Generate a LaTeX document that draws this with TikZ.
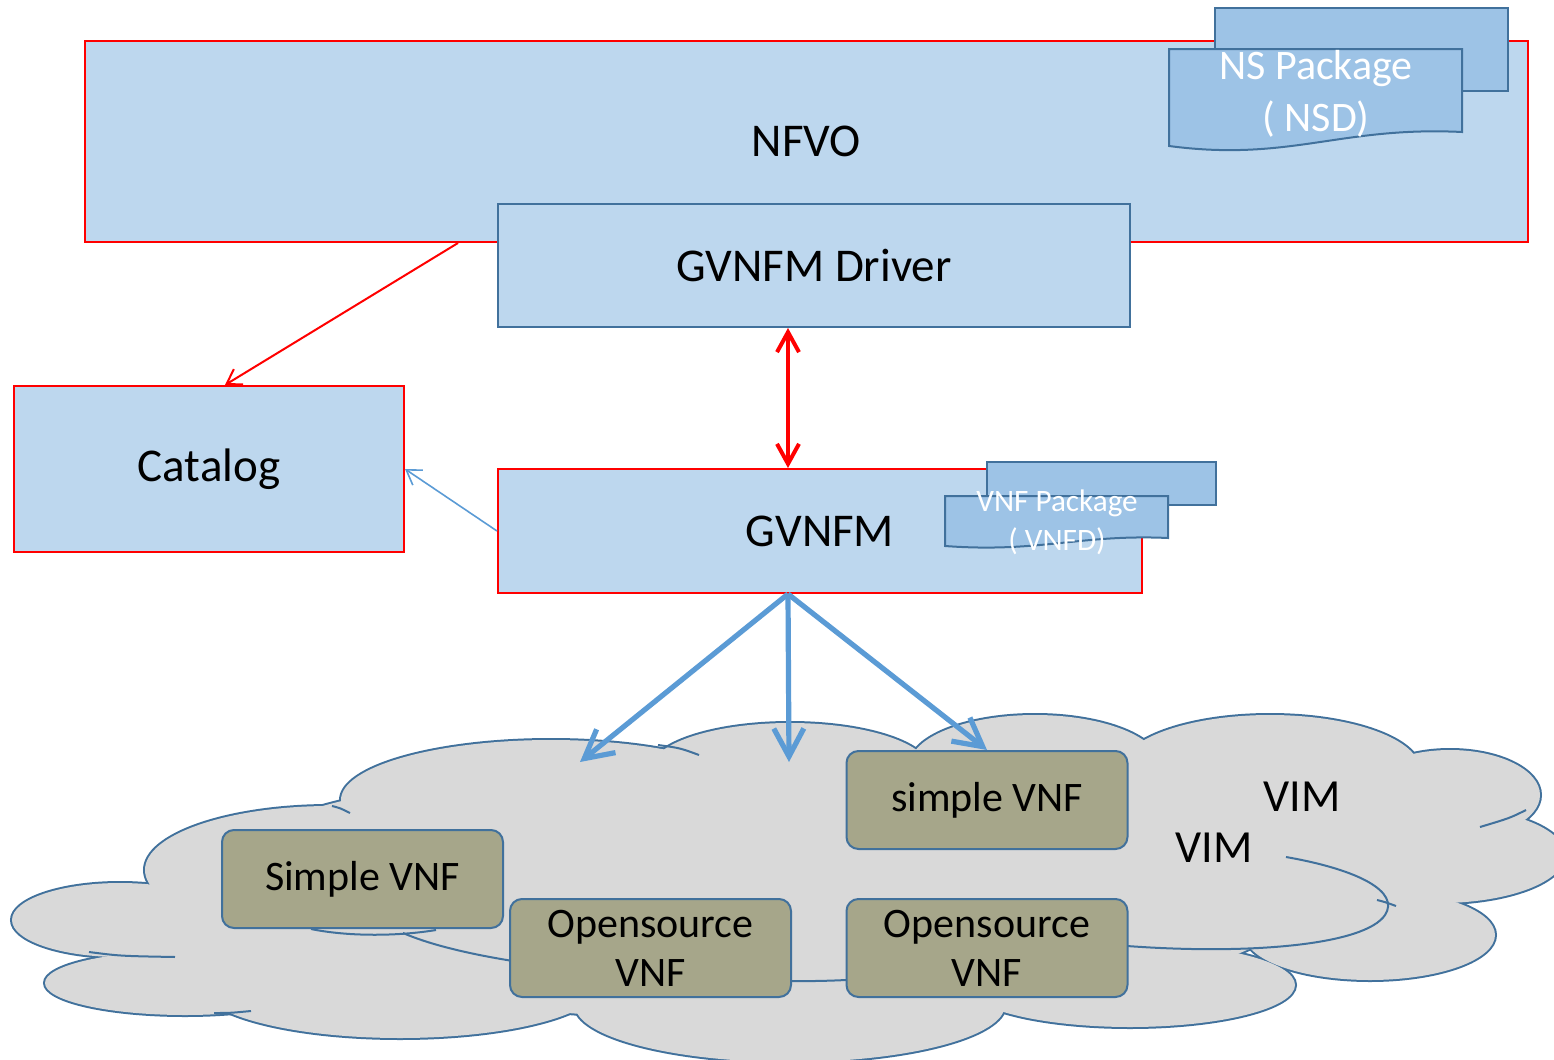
\documentclass[tikz,border=0pt]{standalone}
\usepackage{fontspec}
\setmainfont{Carlito}
\usetikzlibrary{arrows.meta}

\definecolor{boxblue}{HTML}{BDD7EE}
\definecolor{docblue}{HTML}{9DC3E6}
\definecolor{edgeblue}{HTML}{41719C}
\definecolor{arrowblue}{HTML}{5B9BD5}
\definecolor{vnfgray}{HTML}{A6A68A}
\definecolor{cloudgray}{HTML}{D9D9D9}

\tikzset{
  mainbox/.style={fill=boxblue, line width=1pt, inner sep=0pt, font=\fontsize{23.5}{28}\selectfont},
  redbox/.style={mainbox, draw=red},
  bluebox/.style={mainbox, draw=edgeblue},
  docsheet/.style={fill=docblue, draw=edgeblue, line width=1pt},
  doctext/.style={text=white, align=center},
  vnfbox/.style={draw=edgeblue, fill=vnfgray, line width=1pt, rounded corners=6pt,
    minimum width=140.5pt, minimum height=49pt, inner sep=0pt, align=center,
    font=\fontsize{21}{24.5}\selectfont},
  cloudline/.style={draw=edgeblue, line width=1pt},
  vimtext/.style={font=\fontsize{23}{28}\selectfont},
  fatarrow/.style={arrowblue, line width=2.6pt, -{Straight Barb[length=14pt,width=15pt]}},
}

\begin{document}
\begin{tikzpicture}[x=0.5pt, y=-0.5pt]
\useasboundingbox (0,0) rectangle (1554,1060);
\clip (0,0) rectangle (1554,1060);

% orchestrator
\node[redbox, minimum width=721.5pt, minimum height=100.5pt] (nfvo) at (806.5,141.5) {NFVO};
\draw[docsheet] (1215,8) rectangle (1508,91);
\draw[docsheet] (1169,49) -- (1462,49) -- (1462,132) .. controls (1340,126) and (1290,162) .. (1169,146) -- cycle;
\node[doctext, font=\fontsize{21}{26}\selectfont] (nsd) at (1316,94) {NS Package\\( NSD)};
\node[bluebox, minimum width=316pt, minimum height=61.5pt] (drv) at (814,265.5) {GVNFM Driver};

\node[redbox, minimum width=195pt, minimum height=83pt] (cat) at (209,469) {Catalog};

% vnf manager
\node[redbox, minimum width=322pt, minimum height=62pt] (gvnfm) at (820,531) {GVNFM};
\draw[docsheet] (987,462) rectangle (1216,505);
\draw[docsheet] (945,496) -- (1168,496) -- (1168,538) .. controls (1080,534) and (1040,553) .. (945,546) -- cycle;
\node[doctext, font=\fontsize{15.6}{19.5}\selectfont] (vnfd) at (1057,522) {VNF Package\\( VNFD)};

\coordinate (mid) at (788,0);
\draw[red, line width=2pt, {Straight Barb[length=10pt,width=11pt]}-{Straight Barb[length=10pt,width=11pt]}] (drv.south -| mid) -- (gvnfm.north -| mid);
\draw[red, line width=1pt, -{Straight Barb[length=7pt,width=9pt]}] ([xshift=187pt]nfvo.south west) -- ([xshift=8pt]cat.north);
\draw[arrowblue, line width=0.8pt, -{Straight Barb[length=7pt,width=9pt]}] (gvnfm.west) -- (cat.east);

% vim cloud
\foreach \cx/\cy/\rx/\ry in {120/920/108/37, 185/983/140/32, 230/935/90/30, 330/870/185/64,
    551/800/210/60, 790/770/140/47, 1035/765/125/50, 1150/820/100/50, 1270/770/150/55,
    1450/795/90/45, 1440/855/125/48, 1320/850/110/60, 1370/935/125/45, 1130/985/165/42,
    790/1005/215/57, 400/985/200/53, 750/890/560/130}
  \filldraw[fill=cloudgray, draw=edgeblue, line width=2pt] (\cx,\cy) ellipse [x radius=\rx, y radius=\ry];
\foreach \cx/\cy/\rx/\ry in {120/920/108/37, 185/983/140/32, 230/935/90/30, 330/870/185/64,
    551/800/210/60, 790/770/140/47, 1035/765/125/50, 1150/820/100/50, 1270/770/150/55,
    1450/795/90/45, 1440/855/125/48, 1320/850/110/60, 1370/935/125/45, 1130/985/165/42,
    790/1005/215/57, 400/985/200/53, 750/890/560/130}
  \fill[cloudgray] (\cx,\cy) ellipse [x radius=\rx, y radius=\ry];

\draw[cloudline] (1286,857) .. controls (1360,870) and (1400,892) .. (1385,915) .. controls (1365,945) and (1250,955) .. (1127,946);
\draw[cloudline] (403,933) .. controls (500,975) and (750,985) .. (846,980);
\draw[cloudline] (311,929) .. controls (350,937) and (400,936) .. (436,930);
\draw[cloudline] (89,952) .. controls (120,956) .. (175,957);
\draw[cloudline] (214,1013) .. controls (230,1013) .. (251,1011);
\draw[cloudline] (332,806) .. controls (340,808) .. (350,813);
\draw[cloudline] (658,745) .. controls (680,748) .. (699,755);
\draw[cloudline] (1526,810) .. controls (1510,818) .. (1480,827);
\draw[cloudline] (1377,900) .. controls (1385,902) .. (1396,906);

\node[vimtext] (vim-b) at (1302,797) {VIM};
\node[vimtext] (vim-f) at (1214,848) {VIM};

\node[vnfbox] (svnf-l) at (362.5,879) {Simple VNF};
\node[vnfbox] (osvnf-l) at (650.5,948) {Opensource\\VNF};
\node[vnfbox] (svnf) at (987,800) {simple VNF};
\node[vnfbox] (osvnf-r) at (987,948) {Opensource\\VNF};

\coordinate (drop-l) at (580,762);
\coordinate (drop-m) at (789,762);
\draw[fatarrow] (gvnfm.south -| mid) -- (drop-l);
\draw[fatarrow] (gvnfm.south -| mid) -- (drop-m);
\draw[fatarrow] (gvnfm.south -| mid) -- (svnf.north);
\end{tikzpicture}
\end{document}
